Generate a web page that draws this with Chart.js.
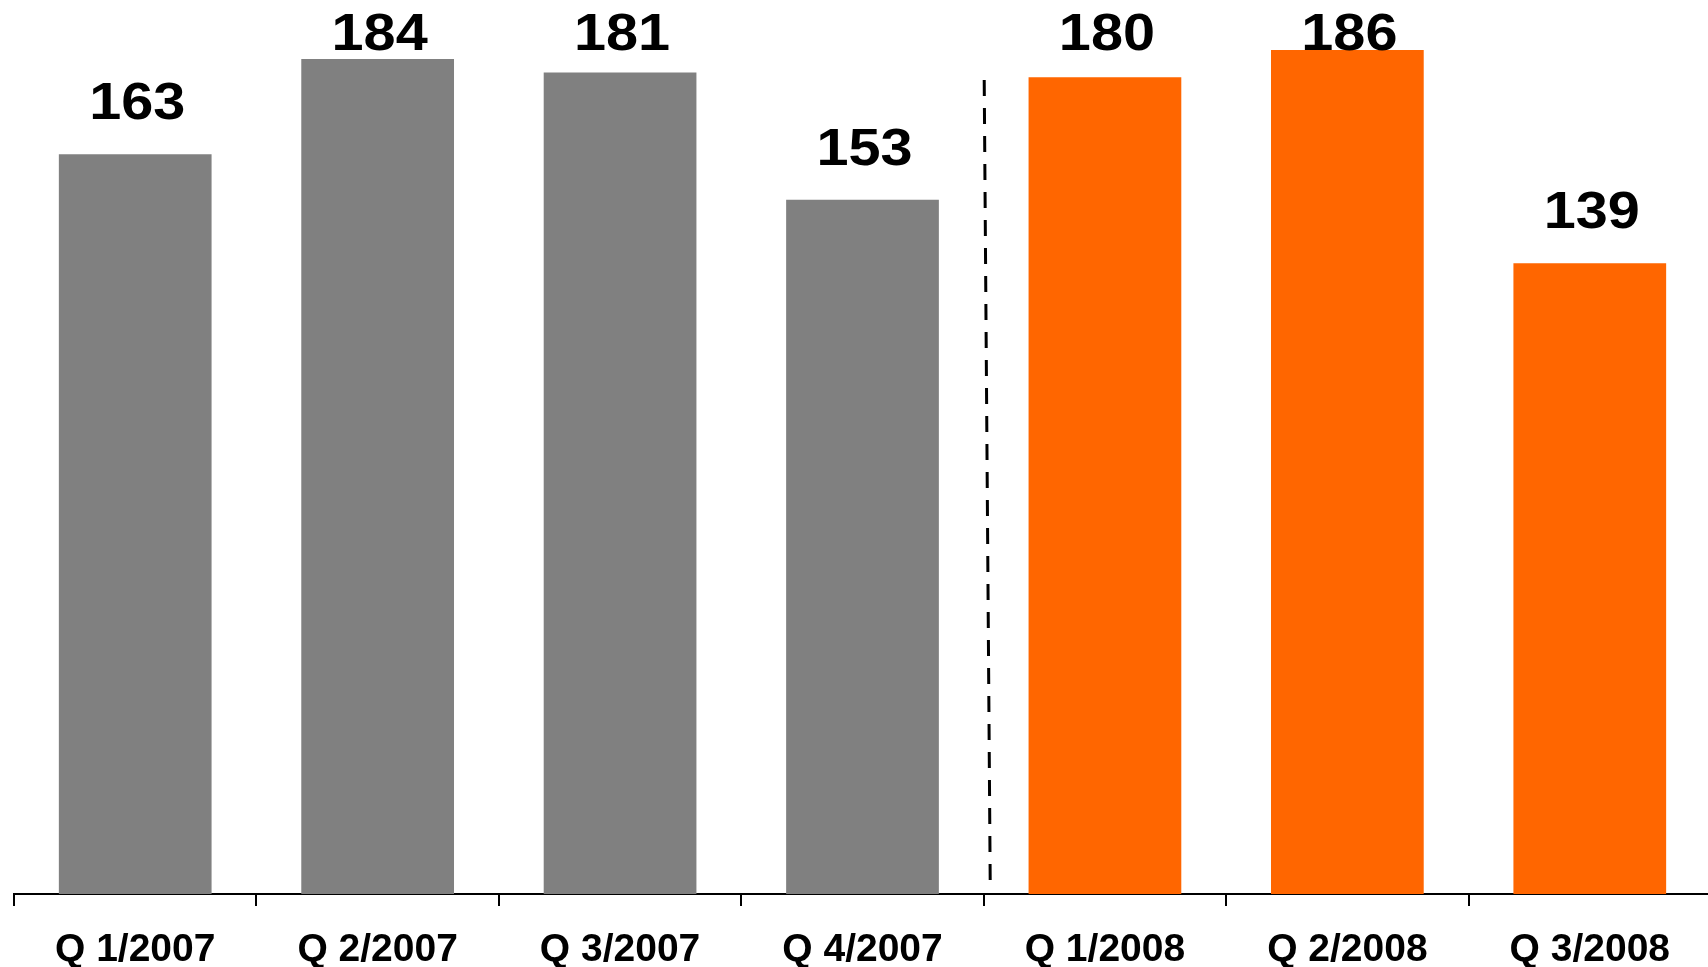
<!DOCTYPE html>
<html>
<head>
<meta charset="utf-8">
<script src="https://cdn.jsdelivr.net/npm/chart.js@4/dist/chart.umd.min.js"></script>
<style>
  html, body { margin: 0; padding: 0; background: #fff; overflow: hidden; }
  #wrap { width: 1711px; height: 967px; }
</style>
</head>
<body>
<div id="wrap"><canvas id="barChart"></canvas></div>
<script>
const quarters = ["Q 1/2007", "Q 2/2007", "Q 3/2007", "Q 4/2007", "Q 1/2008", "Q 2/2008", "Q 3/2008"];
const values = [163, 184, 181, 153, 180, 186, 139];
const barColors = ["#808080", "#808080", "#808080", "#808080", "#FF6600", "#FF6600", "#FF6600"];

// numbers above bars, pushed down from the top edge when there's no room
const valueLabels = {
  id: "valueLabels",
  afterDatasetsDraw(chart) {
    const ctx = chart.ctx;
    const meta = chart.getDatasetMeta(0);
    ctx.save();
    ctx.fillStyle = "#000";
    ctx.font = "bold 51px Arial, 'Liberation Sans', sans-serif";
    ctx.textAlign = "center";
    ctx.textBaseline = "alphabetic";
    meta.data.forEach((bar, i) => {
      const y = Math.max(bar.y - 35, 50);
      ctx.save();
      ctx.translate(bar.x + 2, y);
      ctx.scale(1.13, 1);
      ctx.fillText(String(values[i]), 0, 0);
      ctx.restore();
    });
    ctx.restore();
  }
};

// dashed divider between 2007 and 2008
const yearDivider = {
  id: "yearDivider",
  afterDatasetsDraw(chart) {
    const ctx = chart.ctx;
    const xs = chart.scales.x;
    const x = (xs.getPixelForValue(3) + xs.getPixelForValue(4)) / 2;
    ctx.save();
    ctx.strokeStyle = "#000";
    ctx.lineWidth = 3;
    ctx.setLineDash([16, 12]);
    ctx.beginPath();
    ctx.moveTo(x + 0.5, 80);
    ctx.lineTo(x + 6.5, 882);
    ctx.stroke();
    ctx.restore();
  }
};

var ctx = document.getElementById("barChart").getContext("2d");
var myChart = new Chart(ctx, {
  type: "bar",
  data: {
    labels: quarters,
    datasets: [
      {
        data: values,
        backgroundColor: barColors,
        borderWidth: 0,
        barPercentage: 0.63,
        categoryPercentage: 1,
      },
    ],
  },
  options: {
    responsive: true,
    maintainAspectRatio: false,
    animation: false,
    layout: { padding: { left: 14, right: 0, top: 0, bottom: 0 } },
    plugins: {
      legend: { display: false },
      tooltip: { enabled: false },
    },
    scales: {
      x: {
        offset: true,
        grid: {
          offset: true,
          drawOnChartArea: false,
          drawTicks: true,
          tickLength: 12,
          color: "#000",
          lineWidth: 2,
        },
        border: { display: true, color: "#000", width: 2 },
        ticks: {
          color: "#000",
          padding: 21,
          maxRotation: 0,
          font: { family: "Arial, 'Liberation Sans', sans-serif", size: 39, weight: "bold" },
        },
        afterFit: (scale) => { scale.height = 73; },
      },
      y: {
        display: false,
        min: 0,
        max: 197,
      },
    },
  },
  plugins: [valueLabels, yearDivider],
});
</script>
</body>
</html>
